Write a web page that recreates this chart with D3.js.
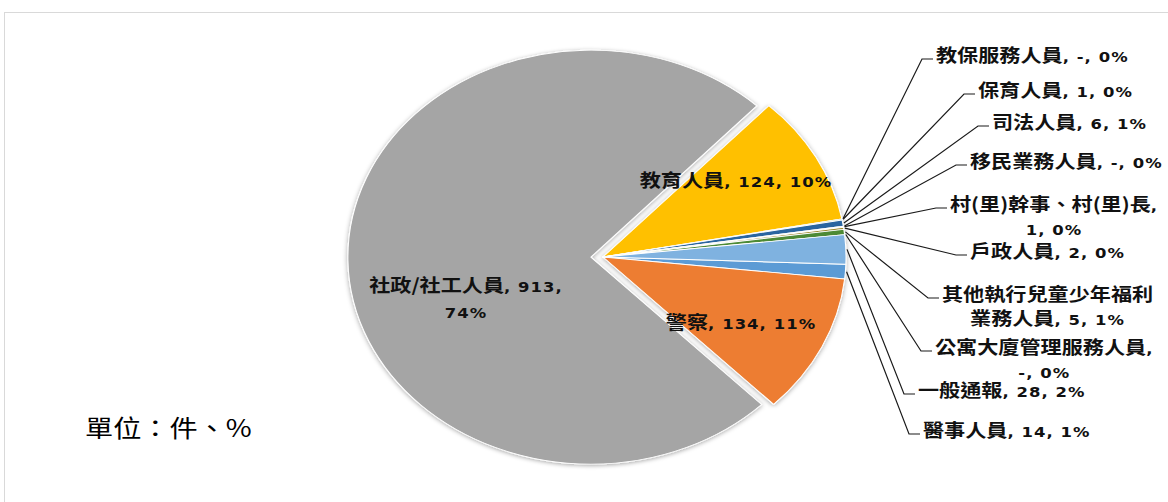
<!DOCTYPE html>
<html><head><meta charset="utf-8">
<script src="https://cdn.jsdelivr.net/npm/d3@7"></script>
<style>html,body{margin:0;padding:0;background:#fff;overflow:hidden;} svg{display:block;}</style>
</head><body><div id="chart"></div>
<script>
// ---- data (clockwise order, as drawn) ----
const categories = ["醫事人員","警察","社政/社工人員","教育人員","教保服務人員","保育人員","司法人員","移民業務人員","村(里)幹事、村(里)長","戶政人員","其他執行兒童少年福利業務人員","公寓大廈管理服務人員","一般通報"];
const values = [14,134,913,124,0,1,6,0,1,2,5,0,28];
const valueLabels = ["14","134","913","124","-","1","6","-","1","2","5","-","28"];
const percentLabels = ["1%","11%","74%","10%","0%","0%","1%","0%","0%","0%","1%","0%","2%"];
const unitLabel = "單位：件、%";

// ---- styles / layout ----
const colors = ["#5B9BD5","#ED7D31","#A5A5A5","#FFC000","#4472C4","#70AD47","#2A65A0","#9E480E","#636363","#A08A2E","#4E8A36","#43682B","#7FB2E0"];
const W = 1168, H = 502;
const SX = 1.174;              // horizontal stretch of the original picture
const R = 207;
const CX = 603, CY = 257;
const explode = {2: 10.3};
const startDeg = 92;
// label layout: outside labels -> left x & first-line centre y ; inside -> centre x
const labelLayout = {
  0: {x:923, y:430, out:true},
  1: {x:741, y:322},
  2: {x:466, y:285, brk:"913,"},
  3: {x:736, y:180},
  4: {x:936, y:55, out:true},
  5: {x:978, y:90, out:true},
  6: {x:992, y:122, out:true},
  7: {x:970, y:161, out:true},
  8: {x:950, y:204, out:true, brk:"長,"},
  9: {x:970, y:251, out:true},
  10:{x:942, y:294, out:true, brk:"福利"},
  11:{x:935, y:347, out:true, brk:"員,"},
  12:{x:918, y:390, out:true}
};

const svg = d3.select("#chart").append("svg").attr("width", W).attr("height", H);

const defs = svg.append("defs");
const f = defs.append("filter").attr("id","shadow").attr("x","-10%").attr("y","-10%").attr("width","120%").attr("height","120%");
f.append("feDropShadow").attr("dx",0).attr("dy",1).attr("stdDeviation",2.2).attr("flood-color","#000").attr("flood-opacity",0.35);

// chart area border
svg.append("rect").attr("x",4.5).attr("y",12.5).attr("width",1200).attr("height",600)
  .attr("fill","#fff").attr("stroke","#d9d9d9").attr("stroke-width",1);

const pie = d3.pie().sort(null).value(d => d)
  .startAngle(startDeg*Math.PI/180).endAngle(startDeg*Math.PI/180 + 2*Math.PI);
const arcs = pie(values);
const arc = d3.arc().innerRadius(0).outerRadius(R);

const g = svg.append("g").attr("transform", `translate(${CX},${CY}) scale(${SX},1)`)
  .attr("filter","url(#shadow)");

g.selectAll("path").data(arcs).join("path")
  .attr("d", d => d.data === 0 ? null : arc(d))
  .attr("transform", (d,i) => {
    const e = explode[i] || 0, m = (d.startAngle+d.endAngle)/2;
    return `translate(${e*Math.sin(m)},${-e*Math.cos(m)})`;
  })
  .attr("fill", (d,i) => colors[i])
  .attr("stroke", "#fff").attr("stroke-width", 0.9).attr("stroke-linejoin","round");

// ---- labels ----
const CJK = "'Noto Sans CJK TC','Noto Sans CJK SC',sans-serif";
const LAT = "'DejaVu Sans','Noto Sans CJK TC',sans-serif";
const tg = svg.append("g");

function segmentsFor(i){
  const name = categories[i];
  const rest = ", " + valueLabels[i] + ", " + percentLabels[i];
  const full = name + rest;
  const segs = [{t:name,f:"cjk",s:0},{t:rest,f:"lat",s:name.length}];
  const lay = labelLayout[i];
  if (!lay.brk) return [segs];
  const br = full.indexOf(lay.brk) + lay.brk.length;
  const l1 = [], l2 = [];
  segs.forEach(sg => {
    const a = sg.s, b = sg.s + sg.t.length;
    if (b <= br) l1.push(sg);
    else if (a >= br) l2.push(sg);
    else { l1.push({t:sg.t.slice(0,br-a),f:sg.f}); l2.push({t:sg.t.slice(br-a),f:sg.f}); }
  });
  l2[0].t = l2[0].t.replace(/^\s+/,"");
  return [l1,l2.filter(s=>s.t.length)];
}

function drawLine(segs, x, base, anchor){
  const t = tg.append("text")
    .attr("transform", `translate(${x},${base}) scale(${SX},1)`)
    .attr("text-anchor", anchor).attr("fill","#111").attr("font-weight",700);
  segs.forEach(s => {
    const ts = t.append("tspan").text(s.t)
      .attr("font-family", s.f === "cjk" ? CJK : LAT)
      .attr("font-size", s.f === "cjk" ? 18 : 14);
    if (s.f !== "cjk") ts.style("letter-spacing", "0.9px");
  });
  return t;
}

arcs.forEach((d,i) => {
  const lay = labelLayout[i];
  const lines = segmentsFor(i);
  const base = lay.y + 6.5;
  if (lay.out) {
    const t1 = drawLine(lines[0], lay.x, base, "start");
    const w1 = t1.node().getComputedTextLength()*SX;
    for (let k=1;k<lines.length;k++) drawLine(lines[k], lay.x + w1/2, base + 24*k, "middle");
    const m = (d.startAngle+d.endAngle)/2;
    const sx = CX + SX*(R+1)*Math.sin(m), sy = CY - (R+1)*Math.cos(m);
    const ly = lay.y + 4;
    svg.append("path")
      .attr("d", `M${sx},${sy}L${lay.x-14},${ly}L${lay.x-3},${ly}`)
      .attr("fill","none").attr("stroke","#1a1a1a").attr("stroke-width",1.2);
  } else {
    lines.forEach((ln,k) => drawLine(ln, lay.x, base + 26*k, "middle"));
  }
});

// unit note
svg.append("text").attr("transform", `translate(85,437) scale(${SX},1)`)
  .attr("font-family", CJK).attr("font-size", 24).attr("font-weight", 400).attr("fill","#000")
  .text(unitLabel);
</script></body></html>
